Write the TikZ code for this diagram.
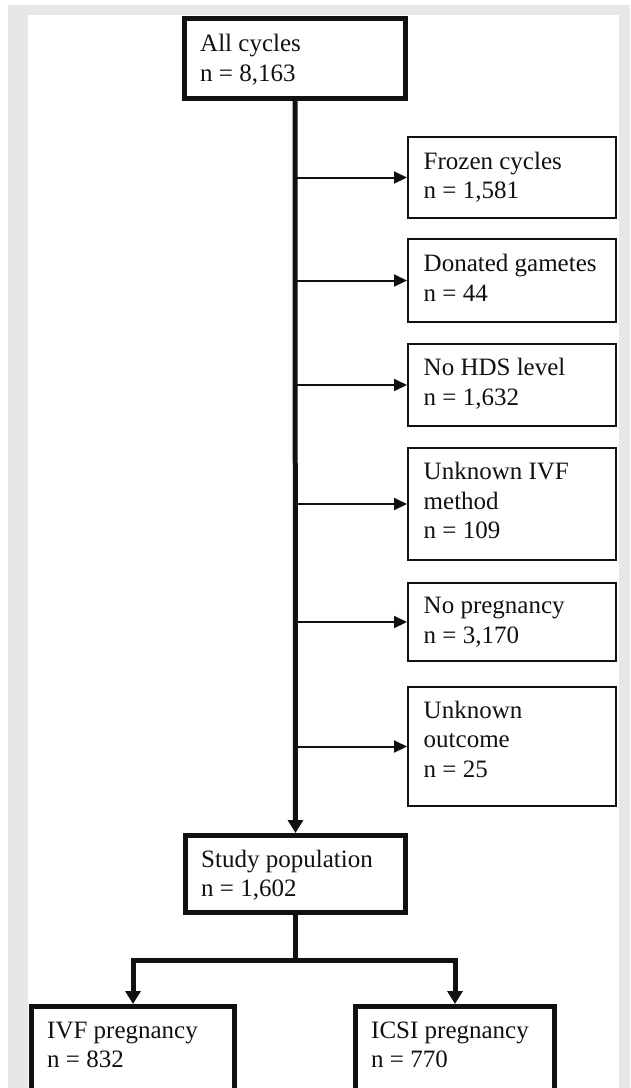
\documentclass[tikz,border=0pt]{standalone}
\usepackage{fontspec}
\setmainfont{Liberation Serif}
\usetikzlibrary{arrows.meta}
\definecolor{framegray}{HTML}{E6E7E9}
\definecolor{ink}{HTML}{111111}
\tikzset{
  thickbox/.style={draw=ink, line width=5pt, rectangle, inner sep=0pt, fill=white},
  thinbox/.style={draw=ink, line width=2pt, rectangle, inner sep=0pt, fill=white},
  lbl/.style={anchor=base west, inner sep=0pt, align=left, text=ink,
    font=\fontsize{25pt}{29.5pt}\selectfont},
  thinarrow/.style={draw=ink, line width=2pt, -{Triangle[length=13pt,width=12pt]}},
  thickline/.style={draw=ink, line width=5pt},
  thickarrow/.style={draw=ink, line width=5pt, -{Triangle[length=13pt,width=15pt]}},
}
\begin{document}
\begin{tikzpicture}[x=1pt,y=-1pt]
\useasboundingbox (0,0) rectangle (630,1088);
\begin{scope}
\clip (0,0) rectangle (630,1088);
\fill[white] (0,0) rectangle (630,1088);
\fill[framegray] (8,5) rectangle (630,1088);
\fill[white] (28,15) rectangle (619,1088);

% main boxes
\node[thickbox, minimum width=221pt, minimum height=80.5pt] (all) at (295,58.25) {};
\node[thickbox, minimum width=220pt, minimum height=77pt] (study) at (295.5,874) {};
\node[thickbox, minimum width=203pt, minimum height=93.5pt] (ivf) at (133,1053.25) {};
\node[thickbox, minimum width=199pt, minimum height=93.5pt] (icsi) at (455,1053.25) {};

% exclusion boxes
\node[thinbox, minimum width=208pt, minimum height=81pt] (frozen) at (512,177.5) {};
\node[thinbox, minimum width=208pt, minimum height=83pt] (donated) at (512,280.5) {};
\node[thinbox, minimum width=208pt, minimum height=82pt] (hds) at (512,385) {};
\node[thinbox, minimum width=208pt, minimum height=112pt] (ivfm) at (512,504) {};
\node[thinbox, minimum width=208pt, minimum height=78pt] (nopreg) at (512,622) {};
\node[thinbox, minimum width=208pt, minimum height=119pt] (unkout) at (512,746.5) {};

% labels (anchored at the baseline of their last line)
\node[lbl] (all-t) at (200,81) {All cycles\\n = 8,163};
\node[lbl] (study-t) at (201,896.5) {Study population\\n = 1,602};
\node[lbl] (ivf-t) at (47,1067.5) {IVF pregnancy\\n = 832};
\node[lbl] (icsi-t) at (371,1067.5) {ICSI pregnancy\\n = 770};
\node[lbl] (frozen-t) at (423.5,198.5) {Frozen cycles\\n = 1,581};
\node[lbl] (donated-t) at (423.5,301) {Donated gametes\\n = 44};
\node[lbl] (hds-t) at (423.5,405) {No HDS level\\n = 1,632};
\node[lbl] (ivfm-t) at (423.5,538.5) {Unknown IVF\\method\\n = 109};
\node[lbl] (nopreg-t) at (423.5,643) {No pregnancy\\n = 3,170};
\node[lbl] (unkout-t) at (423.5,777) {Unknown\\outcome\\n = 25};

% connectors
\draw[thickarrow] (all.south) -- (study.north);
\foreach \b in {frozen,donated,hds,ivfm,nopreg,unkout}
  \draw[thinarrow] (\b.west -| all.south) -- (\b.west);
\coordinate (br) at (295.5,960);
\draw[thickline] (study.south) -- (br);
\draw[thickarrow] ([xshift=2.5pt]br) -| (ivf.north);
\draw[thickarrow] ([xshift=-2.5pt]br) -| (icsi.north);
\end{scope}
\end{tikzpicture}
\end{document}
